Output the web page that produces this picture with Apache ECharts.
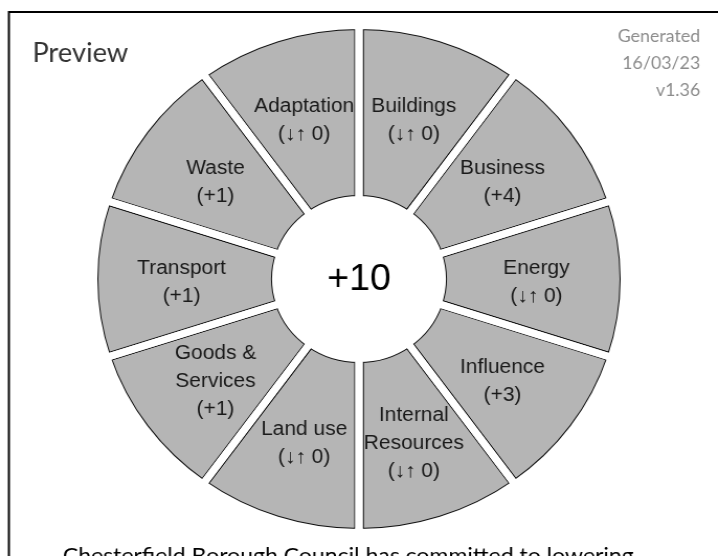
<!DOCTYPE html>
<html>
<head>
<meta charset="utf-8">
<script src="https://cdn.jsdelivr.net/npm/echarts@6/dist/echarts.min.js"></script>
<style>
  html, body { margin: 0; padding: 0; background: #fff; overflow: hidden; }
  /* the source picture is a bit wider than tall, so the wheel is stretched */
  #main { width: 686px; height: 556px; transform: scaleX(1.0466); transform-origin: 0 0; }
</style>
</head>
<body>
<div id="main"></div>
<script>
// themes clockwise from 12 o'clock
const themes = ['Buildings', 'Business', 'Energy', 'Influence', 'Internal\nResources',
                'Land use', 'Goods &\nServices', 'Transport', 'Waste', 'Adaptation'];
const scores = [0, 4, 0, 3, 0, 0, 1, 1, 1, 0];
const sliceSize = [1, 1, 1, 1, 1, 1, 1, 1, 1, 1];   // every theme gets the same wedge
const stamp = ['Generated', '16/03/23', 'v1.36'];
const footnote = 'Chesterfield Borough Council has committed to lowering';

function scoreText(v) {
  if (v > 0) return '(+' + v + ')';
  if (v < 0) return '(' + v + ')';
  return '(↓↑ 0)';
}
const total = scores.reduce((a, b) => a + b, 0);

const cx = 343, cy = 279;
const pieData = themes.map((t, i) => ({ name: t, value: sliceSize[i] }));

let myChart = echarts.init(document.getElementById('main'));
let option = {
  animation: false,
  series: [
    {
      // gray wedges, thick dark border -> thin outline left after the white gap is drawn
      type: 'pie',
      z: 2,
      silent: true,
      center: [cx, cy],
      radius: [79.5, 253.5],
      startAngle: 90,
      avoidLabelOverlap: false,
      data: pieData,
      itemStyle: { color: '#b5b5b5', borderColor: '#111', borderWidth: 9 },
      label: { show: false },
      labelLine: { show: false }
    },
    {
      // same wedges again, only a white border: makes the gaps
      type: 'pie',
      z: 3,
      silent: true,
      center: [cx, cy],
      radius: [79.5, 253.5],
      startAngle: 90,
      avoidLabelOverlap: false,
      data: pieData,
      itemStyle: { color: 'rgba(0,0,0,0)', borderColor: '#fff', borderWidth: 7 },
      label: {
        show: true,
        position: 'inside',
        overflow: 'none',
        offset: [0, 3],
        formatter: p => p.name + '\n' + scoreText(scores[p.dataIndex]),
        fontFamily: 'Liberation Sans',
        fontSize: 20,
        lineHeight: 28,
        color: '#1a1a1a'
      },
      labelLayout: { hideOverlap: false },
      labelLine: { show: false }
    }
  ],
  graphic: [
    { type: 'rect', z: 1, shape: { x: 8.5, y: 12, width: 2000, height: 2000 },
      style: { fill: 'none', stroke: '#000', lineWidth: 2 } },
    // tidy the outer/inner edge of the stacked borders
    { type: 'ring', z: 10, silent: true, shape: { cx: cx, cy: cy, r: 264, r0: 255.5 }, style: { fill: '#fff' } },
    { type: 'circle', z: 10, silent: true, shape: { cx: cx, cy: cy, r: 77.5 }, style: { fill: '#fff' } },
    { type: 'text', z: 11, x: cx, y: cy + 1,
      style: { text: '+' + total, fill: '#000', font: '36px "Liberation Sans"', align: 'center', verticalAlign: 'middle' } },
    { type: 'text', z: 11, x: 31, y: 54,
      style: { text: 'Preview', fill: '#333', font: '26px Lato', align: 'left', verticalAlign: 'middle' } },
    { type: 'text', z: 11, x: 669, y: 64,
      style: { text: stamp.join('\n'), fill: '#8c8c8c', font: '17px Lato', lineHeight: 27, align: 'right', verticalAlign: 'middle' } },
    { type: 'text', z: 11, x: 60, y: 556,
      style: { text: footnote, fill: '#000', font: '22px Lato', align: 'left', verticalAlign: 'middle' } }
  ]
};
myChart.setOption(option);
</script>
</body>
</html>
